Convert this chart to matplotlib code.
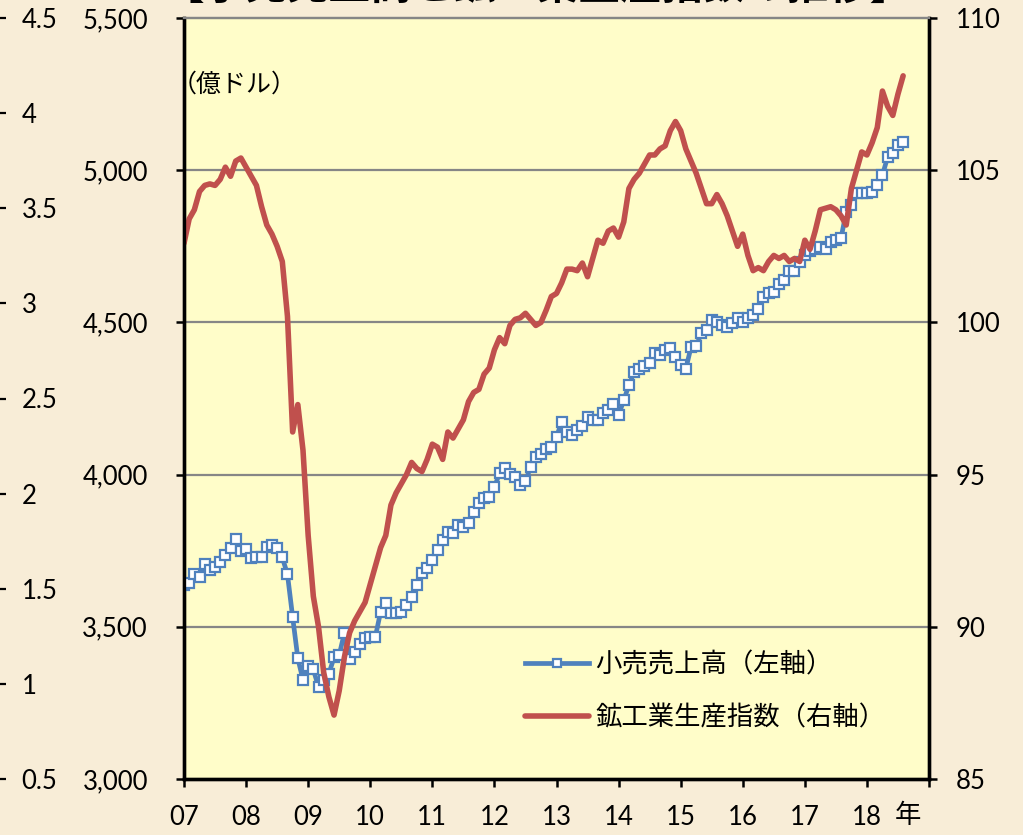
import matplotlib
matplotlib.use("Agg")
import matplotlib.pyplot as plt
from matplotlib.ticker import FuncFormatter
from matplotlib.transforms import offset_copy

plt.rcParams['font.family'] = ['Lato', 'Noto Sans CJK JP', 'DejaVu Sans']

# monthly data, Jan 2007 - Aug 2018
retail = [  # 小売売上高 (億ドル)
    3637, 3645, 3675, 3665, 3705, 3685, 3697, 3712, 3735, 3758, 3790, 3748,
    3755, 3727, 3730, 3730, 3762, 3768, 3758, 3728, 3672, 3532, 3397, 3325,
    3370, 3360, 3302, 3325, 3345, 3400, 3407, 3480, 3395, 3418, 3445, 3462,
    3466, 3468, 3549, 3578, 3545, 3545, 3550, 3571, 3598, 3637, 3677, 3693,
    3720, 3752, 3785, 3811, 3808, 3834, 3828, 3841, 3877, 3907, 3923, 3926,
    3959, 4005, 4022, 4002, 3992, 3966, 3979, 4025, 4058, 4068, 4084, 4091,
    4124, 4173, 4140, 4130, 4147, 4160, 4190, 4180, 4180, 4202, 4212, 4232,
    4195, 4245, 4294, 4337, 4347, 4357, 4367, 4400, 4393, 4410, 4416, 4386,
    4360, 4347, 4419, 4422, 4465, 4475, 4508, 4501, 4491, 4485, 4498, 4514,
    4500, 4514, 4525, 4545, 4585, 4595, 4600, 4625, 4640, 4668, 4670, 4700,
    4722, 4735, 4740, 4748, 4740, 4764, 4771, 4777, 4863, 4885, 4925, 4925,
    4925, 4930, 4951, 4984, 5043, 5056, 5083, 5093,
]
production = [  # 鉱工業生産指数
    102.6, 103.4, 103.7, 104.3, 104.5, 104.55, 104.5, 104.7, 105.1, 104.8, 105.3, 105.4,
    105.1, 104.8, 104.5, 103.8, 103.2, 102.9, 102.5, 102.0, 100.2, 96.4, 97.3, 95.8,
    93.0, 91.0, 90.0, 88.5, 87.7, 87.1, 87.9, 89.0, 89.8, 90.2, 90.5, 90.8,
    91.4, 92.0, 92.6, 93.0, 94.0, 94.4, 94.7, 95.0, 95.4, 95.2, 95.1, 95.5,
    96.0, 95.9, 95.5, 96.4, 96.2, 96.5, 96.8, 97.4, 97.7, 97.8, 98.3, 98.5,
    99.1, 99.5, 99.3, 99.9, 100.1, 100.15, 100.3, 100.1, 99.9, 100.0, 100.4, 100.85,
    100.95, 101.3, 101.75, 101.75, 101.7, 101.95, 101.5, 102.1, 102.7, 102.6, 103.0, 103.1,
    102.8, 103.3, 104.4, 104.7, 104.9, 105.2, 105.5, 105.5, 105.7, 105.8, 106.3, 106.6,
    106.3, 105.7, 105.3, 104.9, 104.4, 103.9, 103.9, 104.2, 103.9, 103.5, 103.0, 102.5,
    102.9, 102.2, 101.7, 101.8, 101.7, 102.0, 102.2, 102.1, 102.2, 102.0, 102.1, 102.0,
    102.7, 102.4, 103.0, 103.7, 103.75, 103.8, 103.7, 103.5, 103.2, 104.4, 105.0, 105.6,
    105.5, 105.9, 106.4, 107.6, 107.1, 106.8, 107.5, 108.1,
]
years = list(range(2007, 2020))
year_labels = ['07', '08', '09', '10', '11', '12', '13', '14', '15', '16', '17', '18', '']
left_ticks = [3000, 3500, 4000, 4500, 5000, 5500]
right_ticks = [85, 90, 95, 100, 105, 110]
side_ticks = [0.5, 1, 1.5, 2, 2.5, 3, 3.5, 4, 4.5]

x = [2007 + i / 12 for i in range(len(retail))]

BLUE = '#4F81BD'
RED = '#C0504D'
W, H = 1023, 835
fig = plt.figure(figsize=(W / 100, H / 100), dpi=100)
fig.patch.set_facecolor('#F8EDD7')

left, right, top, bottom = 184 / W, 929 / W, 1 - 18 / H, 1 - 779 / H
ax = fig.add_axes([left, bottom, right - left, top - bottom])
ax.set_facecolor('#FFFDC9')

ax.plot(x, retail, color=BLUE, lw=3.4, marker='s', ms=7, mfc='white',
        mec=BLUE, mew=1.6, label='小売売上高（左軸）', zorder=3)
ax.set_ylim(3000, 5500)
ax.set_xlim(2007, 2019)
ax.set_yticks(left_ticks)
ax.yaxis.set_major_formatter(FuncFormatter(lambda v, p: f'{int(v):,}'))
ax.set_xticks(years)
ax.set_xticklabels(year_labels)
for v in left_ticks[1:-1]:
    ax.axhline(v, color='#868686', lw=1.6, zorder=1)

ax2 = ax.twinx()
ax2.plot(x, production, color=RED, lw=4.0, label='鉱工業生産指数（右軸）',
         solid_capstyle='round', solid_joinstyle='round')
ax2.set_ylim(85, 110)
ax2.set_yticks(right_ticks)

for a in (ax, ax2):
    for s in ('left', 'right', 'bottom'):
        a.spines[s].set_linewidth(2.4)
        a.spines[s].set_color('black')
    a.spines['top'].set_color('#868686')
    a.spines['top'].set_linewidth(1.6)
ax.tick_params(axis='y', direction='out', length=6, width=1.8, labelsize=18.5, pad=20)
ax.tick_params(axis='x', direction='out', length=6, width=1.8, labelsize=18.5, pad=13)
ax2.tick_params(axis='y', direction='out', length=6, width=1.8, labelsize=18.5, pad=13)

ax.text(2018.45, 2925, '年', fontsize=19, ha='left', va='top', family=['Noto Sans CJK JP'])
ax.text(2007, 5280, '（億ドル）', fontsize=18, ha='left', va='center',
        family=['Noto Sans CJK JP'],
        transform=offset_copy(ax.transData, fig=fig, x=-12, y=0, units='dots'))

h1, l1 = ax.get_legend_handles_labels()
h2, l2 = ax2.get_legend_handles_labels()
ax2.legend(h1 + h2, l1 + l2, loc='upper left', bbox_to_anchor=(0.458, 0.168),
           frameon=False, handlelength=2.4, markerscale=0.8, borderpad=0,
           borderaxespad=0, labelspacing=1.0, handletextpad=0.25, numpoints=1,
           prop={'family': ['Noto Sans CJK JP'], 'size': 19})

# neighbouring chart's axis on the far left
side = fig.add_axes([-0.06, bottom, 0.0565, top - bottom])
side.set_ylim(0.5, 4.5)
side.set_yticks(side_ticks)
side.set_yticklabels([f'{v:g}' for v in side_ticks])
side.yaxis.tick_right()
side.set_xticks([])
side.patch.set_visible(False)
for s in side.spines.values():
    s.set_visible(False)
side.tick_params(axis='y', direction='out', length=7, width=1.6, labelsize=18.5, pad=11)

fig.text(537 / W, 1 + 0.5 / H, '【小売売上高と鉱工業生産指数の推移】', fontsize=30,
         ha='center', va='baseline', fontweight='bold', family=['Noto Sans CJK JP'])

fig.savefig('out.png', dpi=100, facecolor=fig.get_facecolor())
